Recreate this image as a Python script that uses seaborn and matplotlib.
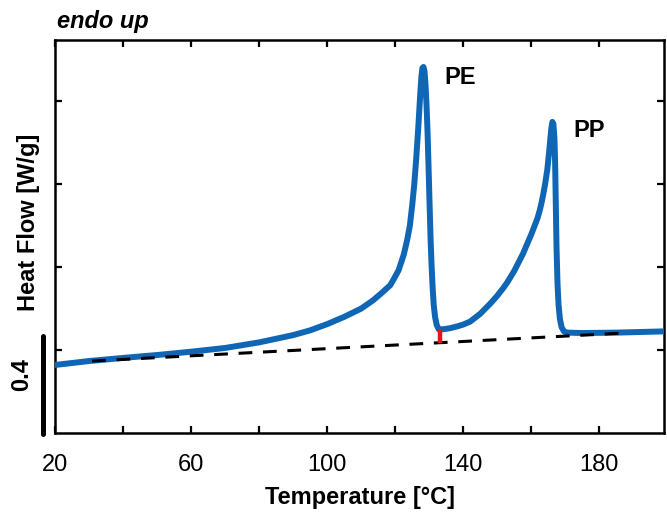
import numpy as np
import pandas as pd
import matplotlib
matplotlib.use("Agg")
import matplotlib.pyplot as plt
import seaborn as sns

# ---- data ----
temperature = [20, 30, 40, 50, 60, 70, 80, 90, 95, 100, 105, 110, 113.5, 116, 118.5,
               119.5, 121, 122.5, 123.5, 124.3, 125, 125.6, 126.2, 126.8, 127.3, 127.7,
               128.0, 128.3, 128.6, 128.9, 129.2, 129.5, 129.8, 130.1, 130.4, 130.7,
               131.0, 131.3, 131.7, 132.2, 132.8, 134, 136, 138, 140, 142, 145, 148,
               150, 151.8, 153, 155, 157.6, 159, 160, 161.8, 162.5, 163, 163.5, 164.1,
               164.7, 165.2, 165.6, 165.9, 166.2, 166.5, 166.8, 167.0, 167.2, 167.4,
               167.7, 168.0, 168.4, 168.9, 169.6, 170.5, 175, 185, 199]
heat_flow = [0.328, 0.347, 0.362, 0.376, 0.392, 0.410, 0.437, 0.472, 0.495, 0.525, 0.560,
             0.600, 0.640, 0.675, 0.712,
             0.740, 0.785, 0.860, 0.930, 1.000, 1.100, 1.200, 1.330, 1.480, 1.620, 1.720,
             1.760, 1.765, 1.745, 1.680, 1.580, 1.450, 1.280, 1.100, 0.930, 0.800,
             0.700, 0.620, 0.560, 0.520, 0.500, 0.500, 0.505, 0.513, 0.523, 0.537, 0.575, 0.625,
             0.662, 0.700, 0.728, 0.782, 0.866, 0.920, 0.958, 1.035, 1.075, 1.110, 1.150, 1.205,
             1.270, 1.350, 1.420, 1.470, 1.500, 1.490, 1.420, 1.300, 1.100, 0.900,
             0.720, 0.620, 0.550, 0.510, 0.490, 0.484, 0.482, 0.484, 0.490]

baseline_T = [30.9, 187.0]
baseline_y = [0.347, 0.482]
marker_T = [133.2, 133.2]
marker_y = [0.435, 0.501]
scale_T = [16.4, 16.4]
scale_y = [-0.005, 0.47]

x_major = [20, 60, 100, 140, 180]
x_minor = [40, 80, 120, 160]
y_ticks = [0.4, 0.8, 1.2, 1.6]

peak_labels = ["PE", "PP"]
peak_pos = [(139.0, 1.716), (177.0, 1.46)]

df = pd.DataFrame({"T": temperature, "HF": heat_flow})
base_df = pd.DataFrame({"T": baseline_T, "y": baseline_y})

sns.set_theme(style="white")
plt.rcParams["font.family"] = ["Liberation Sans", "DejaVu Sans"]
for k in ["text.color", "axes.labelcolor", "xtick.color", "ytick.color"]:
    plt.rcParams[k] = "black"

fig = plt.figure(figsize=(6.67, 5.12), dpi=100)
ax = fig.add_axes([0.0825, 0.1543, 0.9130, 0.7676])

sns.lineplot(data=df, x="T", y="HF", ax=ax, color="#0f66b4", lw=4.3, estimator=None,
             sort=False, zorder=3)
ax.lines[-1].set_solid_joinstyle("round")
ax.lines[-1].set_solid_capstyle("round")
sns.lineplot(data=base_df, x="T", y="y", ax=ax, color="black", lw=2.2, zorder=4,
             estimator=None)
ax.lines[-1].set_dashes((4.5, 3.5))
ax.plot(marker_T, marker_y, color="#e8141c", lw=3.2, solid_capstyle="butt", zorder=5)
ax.plot(scale_T, scale_y, color="black", lw=3.6, solid_capstyle="round", clip_on=False)

ax.set_xlim(20, 199)
ax.set_ylim(0, 1.895)
ax.set_xticks(x_major)
ax.set_xticks(x_minor, minor=True)
ax.set_yticks(y_ticks)
ax.set_yticklabels([])
ax.set_xticklabels([str(v) for v in x_major], fontsize=17)
ax.tick_params(axis="both", which="both", direction="in", length=5, width=1.6,
               top=True, right=True, bottom=True, left=True, color="black")
ax.tick_params(axis="x", which="major", pad=15)
for s in ax.spines.values():
    s.set_visible(True)
    s.set_color("black")
    s.set_linewidth(1.8)

ax.set_xlabel("Temperature [°C]", fontsize=17, fontweight="bold", labelpad=7)
ax.set_ylabel("")
fig.text(0.043, 0.566, "Heat Flow [W/g]", rotation=90, fontsize=17, fontweight="bold",
         ha="center", va="center")
fig.text(0.033, 0.268, "0.4", rotation=90, fontsize=17, fontweight="bold",
         ha="center", va="center")
fig.text(0.085, 0.958, "endo up", fontsize=17, fontweight="bold", style="italic",
         ha="left", va="center")
for lab, (tx, ty) in zip(peak_labels, peak_pos):
    ax.text(tx, ty, lab, fontsize=17, fontweight="bold", ha="center", va="center")

fig.savefig("out.png", dpi=100)
